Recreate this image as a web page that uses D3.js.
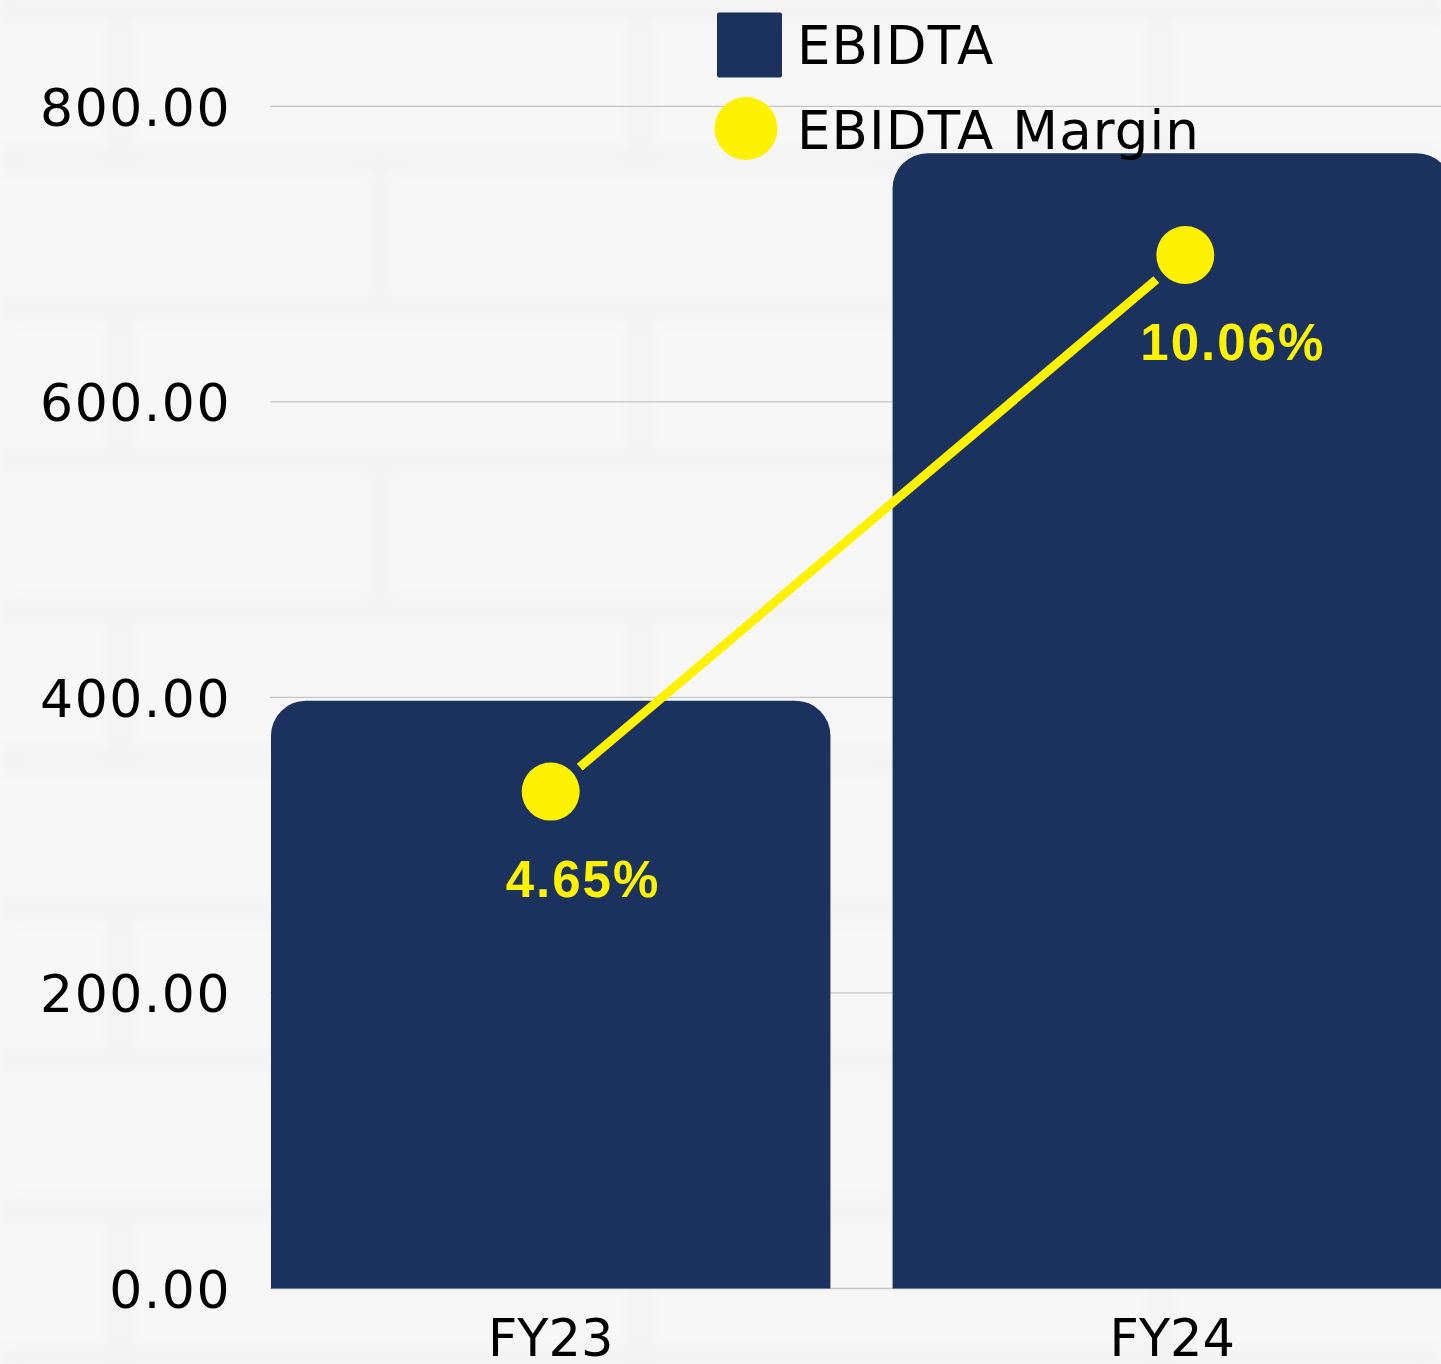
<!DOCTYPE html>
<html>
<head>
<meta charset="utf-8">
<script src="https://cdn.jsdelivr.net/npm/d3@7"></script>
<style>
  body { margin: 0; background: #f7f7f7; }
  svg { display: block; }
</style>
</head>
<body>
<div id="chart"></div>
<script>
// data
let categories = ['FY23', 'FY24'];
let ebidta = [397.8, 768.2];          // bar values
let ebidta_margin = [4.65, 10.06];    // line values, in %
let y_ticks = [0, 200, 400, 600, 800];
let legend_labels = ['EBIDTA', 'EBIDTA Margin'];

// size of the page
let svg_width = 1441;
let svg_height = 1364;

// plot box
let plot_left = 271;
let plot_right = 1452;   // FY24 bar runs off the right edge
let plot_top = 106.3;
let plot_bottom = 1288.5;

let bar_color = '#1b315e';
let line_color = '#fff200';
let grid_color = '#c6c6c6';
let label_font = '"DejaVu Sans", sans-serif';

let svg = d3.select('#chart')
    .append('svg')
    .attr('width', svg_width)
    .attr('height', svg_height);

// very faint brick wall behind the chart
let defs = svg.append('defs');
let brick = defs.append('pattern')
    .attr('id', 'bricks')
    .attr('patternUnits', 'userSpaceOnUse')
    .attr('width', 520)
    .attr('height', 300);
brick.append('rect').attr('width', 520).attr('height', 300).attr('fill', '#f7f7f7');
brick.append('path')
    .attr('d', 'M0,10H520 M0,160H520 M120,10V160 M380,160V300')
    .attr('stroke', '#f1f1f1')
    .attr('stroke-width', 12)
    .attr('fill', 'none');
defs.append('filter').attr('id', 'soft')
    .append('feGaussianBlur').attr('stdDeviation', 9);

svg.append('rect')
    .attr('width', svg_width)
    .attr('height', svg_height)
    .attr('fill', 'url(#bricks)')
    .attr('filter', 'url(#soft)');

// scales
let x = d3.scaleBand()
    .domain(categories)
    .range([plot_left, plot_right])
    .paddingInner(0.1)
    .paddingOuter(0);

let y = d3.scaleLinear()
    .domain([0, 800])
    .range([plot_bottom, plot_top]);

// margin line sits on its own (hidden) right axis
let y2 = d3.scaleLinear()
    .domain([-0.36, 11.56])
    .range([plot_bottom, plot_top]);

// dots sit a little right of the FY24 bar centre in the reference
let line_shift = [0, 13];
function lineX(d, i) { return x(d) + x.bandwidth() / 2 + line_shift[i]; }

// gridlines
svg.append('g')
    .selectAll('line')
    .data(y_ticks)
    .enter()
    .append('line')
    .attr('x1', plot_left - 1)
    .attr('x2', svg_width)
    .attr('y1', d => y(d))
    .attr('y2', d => y(d))
    .attr('stroke', grid_color)
    .attr('stroke-width', 1.3);

// y axis labels
let y_axis = svg.append('g')
    .attr('transform', 'translate(' + plot_left + ',0)')
    .call(d3.axisLeft(y).tickValues(y_ticks).tickSize(0).tickPadding(40).tickFormat(d3.format('.2f')));
y_axis.select('.domain').remove();
y_axis.selectAll('text')
    .attr('font-family', label_font)
    .attr('font-size', 52)
    .attr('letter-spacing', 1.5)
    .attr('fill', '#000')
    .attr('dy', '0.36em');

// x axis labels
let x_axis = svg.append('g')
    .attr('transform', 'translate(0,' + plot_bottom + ')')
    .call(d3.axisBottom(x).tickSize(0));
x_axis.select('.domain').remove();
x_axis.selectAll('text')
    .attr('font-family', label_font)
    .attr('font-size', 51)
    .attr('fill', '#000')
    .attr('y', 67.5)
    .attr('dy', 0);

// bars with rounded top corners
function topRounded(x0, y0, w, h, r) {
    return 'M' + x0 + ',' + (y0 + h) +
        'V' + (y0 + r) +
        'A' + r + ',' + r + ' 0 0 1 ' + (x0 + r) + ',' + y0 +
        'H' + (x0 + w - r) +
        'A' + r + ',' + r + ' 0 0 1 ' + (x0 + w) + ',' + (y0 + r) +
        'V' + (y0 + h) + 'Z';
}

svg.append('g')
    .selectAll('path')
    .data(ebidta)
    .enter()
    .append('path')
    .attr('d', (d, i) => topRounded(x(categories[i]), y(d), x.bandwidth(), plot_bottom - y(d), 35))
    .attr('fill', bar_color);

// margin line, stopped short of each dot
let pts = ebidta_margin.map((d, i) => [lineX(categories[i], i), y2(d)]);
let gap = 38;
let segs = [];
for (let i = 0; i < pts.length - 1; i++) {
    let dx = pts[i + 1][0] - pts[i][0];
    let dy = pts[i + 1][1] - pts[i][1];
    let len = Math.sqrt(dx * dx + dy * dy);
    segs.push([
        pts[i][0] + dx / len * gap, pts[i][1] + dy / len * gap,
        pts[i + 1][0] - dx / len * gap, pts[i + 1][1] - dy / len * gap
    ]);
}
svg.append('g')
    .selectAll('line')
    .data(segs)
    .enter()
    .append('line')
    .attr('x1', d => d[0])
    .attr('y1', d => d[1])
    .attr('x2', d => d[2])
    .attr('y2', d => d[3])
    .attr('stroke', line_color)
    .attr('stroke-width', 9);

svg.append('g')
    .selectAll('circle')
    .data(ebidta_margin)
    .enter()
    .append('circle')
    .attr('cx', (d, i) => lineX(categories[i], i))
    .attr('cy', d => y2(d))
    .attr('r', 29)
    .attr('fill', line_color);

// value labels under the dots
svg.append('g')
    .selectAll('text')
    .data(ebidta_margin)
    .enter()
    .append('text')
    .text(d => d.toFixed(2) + '%')
    .attr('x', (d, i) => lineX(categories[i], i) - 45)
    .attr('y', d => y2(d) + 105)
    .attr('font-family', '"Liberation Sans", Arial, sans-serif')
    .attr('font-weight', 'bold')
    .attr('font-size', 51)
    .attr('letter-spacing', 2)
    .attr('fill', line_color);

// legend
let legend = svg.append('g');
legend.append('rect')
    .attr('x', 717)
    .attr('y', 12.5)
    .attr('width', 65)
    .attr('height', 65)
    .attr('rx', 2)
    .attr('fill', bar_color);
legend.append('circle')
    .attr('cx', 746)
    .attr('cy', 128.5)
    .attr('r', 31.5)
    .attr('fill', line_color);
legend.selectAll('text')
    .data(legend_labels)
    .enter()
    .append('text')
    .text(d => d)
    .attr('x', 797)
    .attr('y', (d, i) => 64 + i * 85)
    .attr('font-family', label_font)
    .attr('font-size', 53)
    .attr('letter-spacing', 1.1)
    .attr('fill', '#000');
</script>
</body>
</html>
